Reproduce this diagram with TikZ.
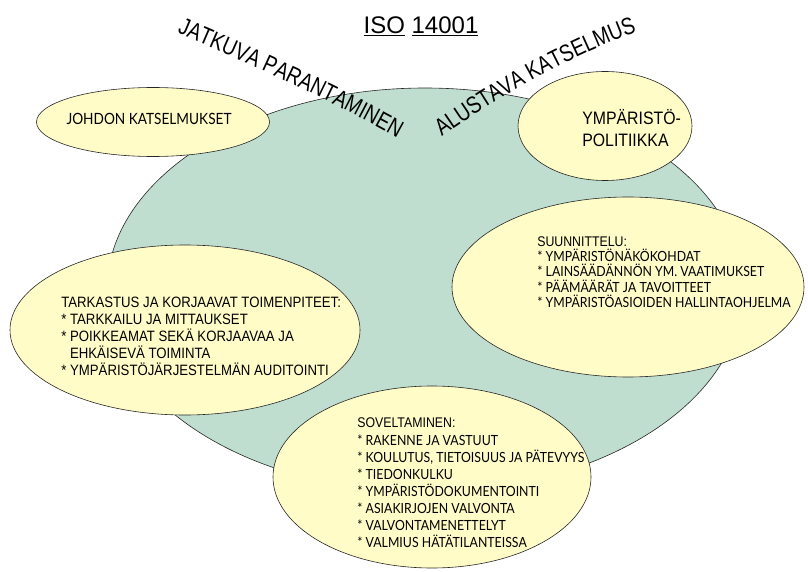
\documentclass[tikz,border=0pt]{standalone}
\usepackage{fontspec}
\setmainfont{Liberation Sans}
\newfontfamily\narrowfont[FakeStretch=0.88]{Liberation Sans}
\newfontfamily\archfont[FakeStretch=0.8]{Liberation Sans}
\newfontfamily\listfont[FakeStretch=0.88]{Lato}
\usetikzlibrary{shapes.geometric}
\usetikzlibrary{decorations.text}
\definecolor{seagreen}{RGB}{192,222,208}
\definecolor{paleyellow}{RGB}{255,252,200}

\begin{document}
\begin{tikzpicture}[x=1pt,y=-1pt,line width=0.6pt,
  blob/.style={ellipse,draw=black!85,inner sep=0pt},
  topic/.style={blob,fill=paleyellow},
  words/.style={align=left,anchor=west,inner sep=0pt}]
\useasboundingbox (0,0) rectangle (808,572);
\node[blob,fill=seagreen,minimum width=636pt,minimum height=404pt] at (425,290) (core){};
\node[topic,minimum width=233pt,minimum height=69pt] at (153,122) (review){};
\node[topic,minimum width=174pt,minimum height=109pt] at (605,126) (policy){};
\node[topic,minimum width=352pt,minimum height=180pt] at (628,287) (plan){};
\node[topic,minimum width=350pt,minimum height=170pt] at (185,330) (check){};
\node[topic,minimum width=318pt,minimum height=182pt] at (432,477) (doit){};

\node[font=\fontsize{24}{24}\selectfont] at (421,26) (title) {\underline{ISO} \underline{14001}};

\node[font=\listfont\fontsize{15.5}{16}\selectfont] at (149,119) (reviewtxt) {JOHDON KATSELMUKSET};
\node[words,font=\narrowfont\fontsize{18}{22}\selectfont] at (582,128) (policytxt) {YMPÄRISTÖ-\\POLITIIKKA};
\node[words,font=\narrowfont\fontsize{15}{17}\selectfont] at (61,336) (checktxt) {TARKASTUS JA KORJAAVAT TOIMENPITEET:\\* TARKKAILU JA MITTAUKSET\\* POIKKEAMAT SEKÄ KORJAAVAA JA\\\hphantom{* }EHKÄISEVÄ TOIMINTA\\* YMPÄRISTÖJÄRJESTELMÄN AUDITOINTI};
\node[words,font=\listfont\fontsize{14}{15.2}\selectfont] at (537,272) (plantxt) {{\narrowfont SUUNNITTELU:}\\* YMPÄRISTÖNÄKÖKOHDAT\\* LAINSÄÄDÄNNÖN YM. VAATIMUKSET\\* PÄÄMÄÄRÄT JA TAVOITTEET\\* YMPÄRISTÖASIOIDEN HALLINTAOHJELMA};
\node[words,font=\listfont\fontsize{14}{17.1}\selectfont] at (357,483) (doittxt) {{\narrowfont SOVELTAMINEN:}\\* RAKENNE JA VASTUUT\\* KOULUTUS, TIETOISUUS JA PÄTEVYYS\\* TIEDONKULKU\\* YMPÄRISTÖDOKUMENTOINTI\\* ASIAKIRJOJEN VALVONTA\\* VALVONTAMENETTELYT\\* VALMIUS HÄTÄTILANTEISSA};

% curved headings
\coordinate (jatA) at (177,33);
\coordinate (jatB) at (412,146);
\path[decorate,decoration={text along path,text align=left,
  text={|\archfont\fontsize{24}{24}\selectfont|JATKUVA PARANTAMINEN}}]
  (jatA) .. controls (255,66) and (335,102) .. (jatB);
\coordinate (aluA) at (442,137);
\coordinate (aluB) at (642,30);
\path[decorate,decoration={text along path,text align=left,
  text={|\archfont\fontsize{24}{24}\selectfont|ALUSTAVA KATSELMUS}}]
  (aluA) .. controls (494,100) and (565,57) .. (aluB);
\end{tikzpicture}
\end{document}
